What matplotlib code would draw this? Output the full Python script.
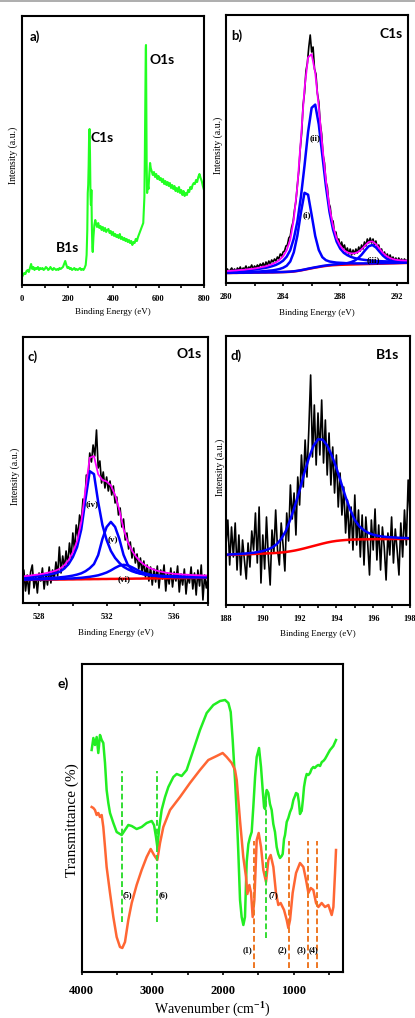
import numpy as np
import matplotlib
matplotlib.use('Agg')
import matplotlib.pyplot as plt
from matplotlib.ticker import MultipleLocator
from matplotlib.lines import Line2D

W, H = 415, 1018

# ---------------- a) XPS survey ----------------
survey_be = (list(range(0, 285, 5))
             + [284, 287, 289, 291, 293, 295, 297, 299, 301, 303, 305, 307, 309, 311, 314, 318, 322, 326]
             + list(range(330, 535, 5))
             + [533, 536, 538, 540, 542, 544, 545, 546, 548, 550, 553, 556, 560, 563, 566, 570]
             + list(range(575, 805, 5)))
survey_cps = ([8, 10, 12, 11, 14, 15, 13, 17, 21, 16, 18, 15, 17, 16, 18, 15, 17, 16, 17, 15,
               16, 18, 17, 15, 16, 18, 16, 15, 17, 16, 15, 16, 15, 17, 16, 17, 18, 21, 24, 20,
               17, 18, 16, 17, 15, 16, 17, 15, 16, 15, 16, 17, 15, 16, 15, 17, 20]
              + [30, 55, 92, 100, 120, 150, 156, 130, 90, 80, 95, 60, 38, 33, 48, 60, 65, 61]
              + [58, 62, 57, 59, 55, 58, 54, 57, 53, 55, 56, 52, 54, 50, 53, 49, 51, 48, 50, 47,
                 51, 46, 48, 45, 47, 44, 46, 43, 45, 42, 44, 40, 43, 42, 46, 44, 48, 51, 54, 57, 60]
              + [62, 78, 88, 130, 190, 236, 240, 200, 120, 92, 100, 96, 112, 122, 117, 114]
              + [110, 113, 108, 111, 106, 109, 105, 107, 103, 106, 101, 104, 100, 103, 99, 102,
                 97, 100, 96, 99, 94, 97, 93, 98, 92, 95, 90, 94, 89, 92, 90, 95, 93, 98, 96,
                 100, 102, 101, 105, 103, 108, 111, 107, 104, 99, 95])
survey_peaks = ['O1s', 'C1s', 'B1s']
survey_peak_x = [615, 354, 202]
survey_peak_y = [225, 147, 37]

# ---------------- b) C1s ----------------
c1s_be = np.linspace(280.0, 292.7, 128)
c1s_raw = [12, 14, 11, 13, 15, 12, 14, 11, 15, 13, 16, 12, 15, 14, 17, 13, 16, 15, 18, 14,
           17, 15, 18, 16, 19, 17, 20, 16, 21, 18, 22, 19, 23, 21, 24, 22, 26, 24, 29, 27,
           31, 32, 37, 38, 45, 47, 56, 61, 73, 82, 98, 112, 134, 150, 178, 190, 212, 220, 236, 248,
           231, 236, 214, 209, 190, 181, 160, 149, 128, 120, 101, 96, 80, 76, 63, 62, 50, 51, 42, 44,
           36, 41, 35, 38, 31, 35, 29, 34, 28, 33, 29, 34, 30, 36, 32, 38, 34, 41, 37, 44,
           40, 45, 40, 44, 38, 42, 35, 38, 31, 34, 28, 31, 26, 29, 24, 28, 23, 26, 22, 25,
           21, 25, 22, 24, 21, 24, 22, 23]
c1s_fit_be = np.linspace(280.0, 292.75, 52)
c1s_bg = [10.0, 10.0, 10.1, 10.1, 10.2, 10.2, 10.3, 10.3, 10.4, 10.4, 10.5, 10.5, 10.6, 10.6,
          10.7, 10.8, 10.9, 11.0, 11.2, 11.5, 12.0, 12.6, 13.3, 14.0, 14.7, 15.4, 16.0, 16.6,
          17.1, 17.5, 17.8, 18.0, 18.2, 18.3, 18.4, 18.5, 18.6, 18.7, 18.8, 18.9, 19.0, 19.1,
          19.2, 19.3, 19.4, 19.5, 19.6, 19.7, 19.8, 19.9, 20.0, 20.1]
c1s_i = [0.4, 0.4, 0.5, 0.5, 0.6, 0.6, 0.7, 0.8, 0.9, 1.0, 1.2, 1.4, 1.7, 2.0, 2.5, 3.2, 4.3,
         6.2, 10.3, 19.2, 35.3, 58, 76.9, 74.3, 53.3, 31.6, 17, 9.2, 5.7, 4.0, 3.1, 2.4, 2.0,
         1.7, 1.3, 1.2, 1.0, 0.9, 0.8, 0.7, 0.6, 0.5, 0.5, 0.5, 0.4, 0.4, 0.4, 0.3, 0.3, 0.3,
         0.3, 0.3]
c1s_ii = [1.5, 1.6, 1.7, 1.9, 2.1, 2.3, 2.6, 2.8, 3.1, 3.6, 4.1, 4.6, 5.3, 6.3, 7.4, 9.1, 11.4,
          15.3, 21.6, 33, 49.5, 73.8, 104, 137, 160.5, 163, 142.6, 111, 79.7, 53.6, 35.5, 23.4,
          16.2, 11.9, 9.4, 7.6, 6.4, 5.4, 4.7, 4.1, 3.6, 3.1, 2.8, 2.6, 2.3, 2.1, 1.9, 1.8, 1.6,
          1.5, 1.4, 1.3]
c1s_iii = [0.1] * 16 + [0.1, 0.2, 0.2, 0.2, 0.2, 0.2, 0.2, 0.3, 0.3, 0.3, 0.3, 0.4, 0.4, 0.5,
                        0.6, 0.7, 0.9, 1.1, 1.5, 2.3, 3.7, 6.0, 9.5, 13.9, 17.8, 18.9, 16.4,
                        12.1, 7.9, 4.9, 3.0, 1.9, 1.3, 1.0, 0.8, 0.7]

# ---------------- c) O1s ----------------
o1s_be = np.linspace(527.0, 538.0, 111)
o1s_raw = [20, 33, 12, 28, 9, 31, 38, 15, 27, 10, 30, 22, 35, 14, 29, 18, 36, 20, 33, 24,
           41, 27, 56, 30, 47, 35, 52, 38, 60, 45, 70, 52, 78, 66, 88, 80, 104, 98, 128, 122,
           150, 141, 158, 147, 173, 135, 142, 120, 131, 115, 126, 112, 122, 108, 117, 100, 106, 88, 95, 76,
           84, 63, 70, 54, 61, 45, 55, 40, 49, 34, 45, 30, 42, 26, 38, 22, 36, 18, 34, 21,
           37, 15, 33, 24, 38, 12, 30, 19, 35, 16, 31, 22, 37, 11, 29, 18, 34, 9, 27, 20,
           36, 14, 30, 8, 33, 17, 38, 3, 28, 15, 26]
o1s_fit_be = np.linspace(527.0, 538.0, 45)
o1s_bg = [23.0, 23.1, 23.1, 23.2, 23.2, 23.3, 23.3, 23.4, 23.4, 23.5, 23.5, 23.6, 23.6, 23.7,
          23.7, 23.8, 23.8, 23.9, 23.9, 24.0, 24.0, 24.1, 24.1, 24.2, 24.2, 24.3, 24.3, 24.4,
          24.4, 24.5, 24.5, 24.6, 24.6, 24.7, 24.7, 24.8, 24.8, 24.9, 24.9, 25.0, 25.0, 25.1,
          25.1, 25.2, 25.2]
o1s_iv = [2.5, 2.7, 3.1, 3.4, 3.8, 4.3, 4.9, 5.6, 6.6, 8.0, 11, 15.4, 22.3, 32.2, 50, 80, 108,
          105, 77, 54, 39, 28, 21, 16, 12, 9.5, 7.5, 6, 5, 4.2, 3.6, 3.1, 2.8, 2.5, 2.2, 2.0,
          1.8, 1.7, 1.5, 1.4, 1.3, 1.2, 1.1, 1.0, 1.0]
o1s_v = [0.8, 0.9, 1.0, 1.1, 1.2, 1.3, 1.5, 1.7, 1.9, 2.2, 2.6, 3.1, 3.8, 4.7, 6, 8, 11, 15, 24,
         40, 52, 57, 52, 40, 24, 14, 9, 6.5, 5, 4, 3.3, 2.8, 2.4, 2.1, 1.8, 1.6, 1.4, 1.3, 1.2,
         1.1, 1.0, 0.9, 0.9, 0.8, 0.8]
o1s_vi = [0.3, 0.3, 0.3, 0.4, 0.4, 0.4, 0.5, 0.5, 0.6, 0.7, 0.8, 0.9, 1.0, 1.2, 1.5, 1.9, 2.4,
          3.0, 3.8, 5, 6.5, 8.5, 11, 13, 14, 13.3, 11.5, 9.2, 7, 5.3, 4, 3.1, 2.4, 1.9, 1.6, 1.3,
          1.1, 1.0, 0.9, 0.8, 0.7, 0.6, 0.6, 0.5, 0.5]

# ---------------- d) B1s ----------------
b1s_be = np.linspace(188.0, 198.0, 101)
b1s_raw = [60, 85, 40, 78, 48, 82, 35, 70, 30, 65, 45, 26, 62, 38, 74, 55, 92, 42, 98, 22,
           70, 36, 88, 48, 20, 75, 52, 95, 55, 40, 82, 60, 34, 92, 64, 120, 86, 112, 70, 128,
           100, 150, 118, 165, 128, 175, 230, 148, 200, 140, 192, 150, 205, 142, 185, 130, 172, 120, 158, 112,
           150, 98, 132, 90, 118, 72, 105, 62, 98, 55, 110, 60, 95, 48, 90, 40, 88, 62, 30, 85,
           55, 96, 45, 80, 35, 78, 58, 25, 72, 50, 88, 42, 76, 55, 30, 82, 48, 95, 60, 125, 90]
b1s_fit_be = np.linspace(188.0, 198.0, 41)
b1s_bg = [50.0, 50.2, 50.3, 50.5, 50.6, 50.8, 51.0, 51.2, 51.4, 51.6, 51.8, 52.1, 52.5, 53.0,
          53.7, 54.5, 55.5, 56.6, 57.8, 59.0, 60.2, 61.4, 62.5, 63.4, 64.1, 64.6, 65.0, 65.3,
          65.5, 65.6, 65.7, 65.7, 65.8, 65.8, 65.9, 65.9, 66.0, 66.0, 66.0, 66.1, 66.1]
b1s_peak = [0.3, 0.4, 0.5, 0.6, 0.8, 1.0, 1.3, 1.8, 2.6, 3.8, 5.6, 8.6, 13.5, 21, 32, 45, 59,
            75, 89, 100, 105.5, 104, 97, 86, 73, 58, 43, 30, 19.5, 13, 9, 6.3, 4.5, 3.4, 2.6,
            2.1, 1.7, 1.4, 1.1, 0.9, 0.7]

# ---------------- e) FTIR ----------------
green_wn = [3859, 3835, 3812, 3788, 3765, 3741, 3717, 3694, 3670, 3647, 3623, 3599, 3552, 3505,
            3434, 3387, 3340, 3292, 3222, 3151, 3080, 3009, 2976, 2948, 2929, 2901, 2868, 2820,
            2773, 2702, 2655, 2585, 2514, 2419, 2325, 2230, 2136, 2041, 1970, 1923, 1890, 1862,
            1829, 1805, 1782, 1758, 1735, 1711, 1688, 1664, 1640, 1616, 1593, 1570, 1545, 1522,
            1489, 1461, 1437, 1418, 1404, 1390, 1380, 1357, 1334, 1310, 1287, 1263, 1239, 1216,
            1192, 1168, 1154, 1135, 1121, 1097, 1074, 1050, 1026, 1003, 980, 965, 942, 925, 909,
            897, 885, 868, 852, 833, 814, 790, 767, 745, 720, 700, 673, 650, 625, 600, 579, 555,
            531, 508, 484, 460, 437, 418, 399]
green_t = [222, 234, 227, 235, 219, 237, 232, 229, 209, 182, 169, 159, 149, 140, 137, 142, 147,
           146, 143, 145, 149, 151, 147, 135, 125, 145, 162, 175, 185, 195, 198, 196, 202, 222,
           242, 259, 267, 271, 272, 269, 260, 232, 192, 159, 119, 72, 55, 47, 55, 110, 128, 135,
           140, 165, 195, 215, 224, 205, 182, 165, 163, 178, 182, 179, 168, 162, 148, 140, 125,
           118, 114, 116, 118, 133, 137, 150, 154, 160, 164, 172, 176, 179, 178, 170, 158, 160,
           161, 172, 185, 193, 198, 197, 199, 203, 205, 204, 206, 207, 206, 210, 211, 213, 216,
           219, 222, 224, 226, 229, 232]
orange_wn = [3859, 3835, 3812, 3788, 3765, 3741, 3717, 3694, 3670, 3647, 3599, 3552, 3505, 3458,
             3425, 3387, 3340, 3292, 3222, 3151, 3080, 3023, 2976, 2929, 2891, 2844, 2749, 2608,
             2467, 2325, 2207, 2089, 2004, 1947, 1876, 1829, 1805, 1759, 1712, 1673, 1654, 1626,
             1602, 1579, 1555, 1522, 1494, 1461, 1428, 1390, 1357, 1324, 1286, 1249, 1216, 1183,
             1135, 1097, 1074, 1050, 1013, 965, 909, 861, 823, 790, 757, 720, 682, 649, 602, 555,
             507, 460, 436, 413, 399]
orange_t = [165, 164, 162, 157, 159, 155, 157, 145, 125, 105, 79, 55, 35, 25, 24, 30, 52, 69, 87,
            102, 115, 123, 117, 112, 129, 145, 162, 175, 189, 202, 212, 216, 219, 215, 209, 202,
            192, 152, 115, 95, 78, 87, 79, 55, 72, 132, 139, 125, 102, 90, 112, 117, 105, 79, 67,
            69, 62, 52, 44, 52, 79, 99, 109, 105, 92, 79, 84, 82, 69, 65, 69, 65, 67, 57, 65, 99,
            122]
green_marks = [3434, 2929, 1395]
green_mark_top = [201, 201, 175]
green_mark_bottom = [50, 50, 34]
orange_marks = [1560, 1066, 797, 672]
band_labels = ['(5)', '(6)', '(7)', '(1)', '(2)', '(3)', '(4)']
band_label_wn = [3359, 2846, 1281, 1659, 1159, 885, 720]
band_label_t = [77, 77, 77, 22, 22, 22, 22]

SERIF = 'Liberation Serif'
SANS = 'Lato'
plt.rcParams['font.family'] = [SERIF, 'DejaVu Serif']
plt.rcParams['font.weight'] = 'bold'
plt.rcParams['mathtext.fontset'] = 'custom'
plt.rcParams['mathtext.rm'] = 'Liberation Serif:bold'
plt.rcParams['mathtext.bf'] = 'Liberation Serif:bold'
plt.rcParams['mathtext.default'] = 'rm'


def box(l, t, r, b):
    # pixel box -> figure fraction rect
    return [l / W, 1 - b / H, (r - l) / W, (b - t) / H]


def frame(ax, tick_size, pad):
    for s in ax.spines.values():
        s.set_linewidth(1.5)
    ax.set_yticks([])
    ax.tick_params(axis='x', which='both', direction='out', width=1.2,
                   labelsize=tick_size, pad=pad)
    ax.tick_params(axis='x', which='major', length=2.5)
    ax.tick_params(axis='x', which='minor', length=2)


fig = plt.figure(figsize=(W / 100, H / 100), dpi=100)
fig.add_artist(Line2D([0, 1], [1 - 1 / H, 1 - 1 / H], color='#a0a0a0', lw=1.2))

# a)
ax = fig.add_axes(box(22, 16, 204, 285))
ax.plot(survey_be, survey_cps, color='#22ff22', lw=1.5)
ax.set_xlim(0, 800)
ax.set_ylim(0, 269)
ax.xaxis.set_major_locator(MultipleLocator(200))
ax.xaxis.set_minor_locator(MultipleLocator(100))
frame(ax, 6, 4.5)
for name, x, y in zip(survey_peaks, survey_peak_x, survey_peak_y):
    ax.text(x, y, name, family=SANS, weight='bold', fontsize=10, ha='center', va='center')
ax.text(0.071, 0.922, 'a)', transform=ax.transAxes, family=SANS, weight='bold',
        fontsize=9.5, ha='center', va='center')
ax.set_xlabel('Binding Energy (eV)', fontsize=6.5, va='center')
ax.xaxis.set_label_coords(0.5, -0.100)
ax.set_ylabel('Intensity (a.u.)', fontsize=7, va='center')
ax.yaxis.set_label_coords(-0.047, 0.483)

# b)
ax = fig.add_axes(box(226, 15, 408, 283))
bg = np.array(c1s_bg)
ax.plot(c1s_be, c1s_raw, color='black', lw=1.2)
ax.plot(c1s_fit_be, bg, color='#ff0000', lw=1.8)
for comp in (c1s_i, c1s_ii, c1s_iii):
    ax.plot(c1s_fit_be, bg + np.array(comp), color='#0000ff', lw=1.8)
ax.plot(c1s_fit_be, bg + np.array(c1s_i) + np.array(c1s_ii) + np.array(c1s_iii),
        color='#ff00ff', lw=1.3)
ax.set_xlim(280, 292.75)
ax.set_ylim(0, 268)
ax.xaxis.set_major_locator(MultipleLocator(4))
ax.xaxis.set_minor_locator(MultipleLocator(2))
frame(ax, 6, 4.5)
for lab, x, y in [('(ii)', 286.22, 144.5), ('(i)', 285.70, 68), ('(iii)', 290.31, 23)]:
    ax.text(x, y, lab, fontsize=6.5, ha='center', va='center')
ax.text(0.058, 0.923, 'b)', transform=ax.transAxes, family=SANS, weight='bold',
        fontsize=9.5, ha='center', va='center')
ax.text(0.909, 0.929, 'C1s', transform=ax.transAxes, family=SANS, weight='bold',
        fontsize=10, ha='center', va='center')
ax.set_xlabel('Binding Energy (eV)', fontsize=6.5, va='center')
ax.xaxis.set_label_coords(0.5, -0.112)
ax.set_ylabel('Intensity (a.u.)', fontsize=7, va='center')
ax.yaxis.set_label_coords(-0.041, 0.515)

# c)
ax = fig.add_axes(box(23, 337, 208, 603))
bg = np.array(o1s_bg)
ax.plot(o1s_be, o1s_raw, color='black', lw=1.2)
ax.plot(o1s_fit_be, bg, color='#ff0000', lw=1.8)
for comp in (o1s_iv, o1s_v, o1s_vi):
    ax.plot(o1s_fit_be, bg + np.array(comp), color='#0000ff', lw=1.8)
ax.plot(o1s_fit_be, bg + np.array(o1s_iv) + np.array(o1s_v) + np.array(o1s_vi),
        color='#ff00ff', lw=1.3)
ax.set_xlim(527.05, 538.0)
ax.set_ylim(0, 266)
ax.xaxis.set_major_locator(MultipleLocator(4))
ax.xaxis.set_minor_locator(MultipleLocator(2))
frame(ax, 6, 4.5)
for lab, x, y in [('(iv)', 531.16, 98.5), ('(v)', 532.38, 63), ('(vi)', 533.06, 24)]:
    ax.text(x, y, lab, fontsize=6.5, ha='center', va='center')
ax.text(0.051, 0.927, 'c)', transform=ax.transAxes, family=SANS, weight='bold',
        fontsize=9.5, ha='center', va='center')
ax.text(0.897, 0.936, 'O1s', transform=ax.transAxes, family=SANS, weight='bold',
        fontsize=10, ha='center', va='center')
ax.set_xlabel('Binding Energy (eV)', fontsize=6.5, va='center')
ax.xaxis.set_label_coords(0.5, -0.113)
ax.set_ylabel('Intensity (a.u.)', fontsize=7, va='center')
ax.yaxis.set_label_coords(-0.043, 0.477)

# d)
ax = fig.add_axes(box(226, 336, 410, 605))
bg = np.array(b1s_bg)
ax.plot(b1s_be, b1s_raw, color='black', lw=1.2)
ax.plot(b1s_fit_be, bg, color='#ff0000', lw=1.8)
ax.plot(b1s_fit_be, bg + np.array(b1s_peak), color='#0000ff', lw=1.8)
ax.set_xlim(188, 198)
ax.set_ylim(0, 269)
ax.xaxis.set_major_locator(MultipleLocator(2))
ax.xaxis.set_minor_locator(MultipleLocator(1))
frame(ax, 6, 4.5)
ax.text(0.057, 0.926, 'd)', transform=ax.transAxes, family=SANS, weight='bold',
        fontsize=9.5, ha='center', va='center')
ax.text(0.880, 0.928, 'B1s', transform=ax.transAxes, family=SANS, weight='bold',
        fontsize=10, ha='center', va='center')
ax.set_xlabel('Binding Energy (eV)', fontsize=6.5, va='center')
ax.xaxis.set_label_coords(0.5, -0.108)
ax.set_ylabel('Intensity (a.u.)', fontsize=7, va='center')
ax.yaxis.set_label_coords(-0.033, 0.513)

# e)
ax = fig.add_axes(box(81.7, 664, 343, 972))
ax.plot(green_wn, green_t, color='#22ee22', lw=1.8)
ax.plot(orange_wn, orange_t, color='#ff6633', lw=1.8)
ax.vlines(green_marks, green_mark_bottom, green_mark_top, colors='#33dd33',
          linestyles=(0, (3, 1.5)), lw=1.4)
ax.vlines(orange_marks, 4, 131, colors='#ee7722', linestyles=(0, (3, 1.5)), lw=1.4)
for lab, x, y in zip(band_labels, band_label_wn, band_label_t):
    ax.text(x, y, lab, fontsize=6, ha='center', va='center')
ax.set_xlim(4000, 300)
ax.set_ylim(0, 308)
ax.xaxis.set_major_locator(MultipleLocator(1000))
ax.xaxis.set_minor_locator(MultipleLocator(500))
frame(ax, 9, 6.5)
ax.set_xlabel('Wavenumber (cm$^{-1}$)', fontsize=10, va='center')
ax.xaxis.set_label_coords(0.5, -0.123)
ax.set_ylabel('Transmittance (%)', fontsize=11, va='center')
ax.yaxis.set_label_coords(-0.036, 0.494)
fig.text(63 / W, 1 - 684 / H, 'e)', family=SANS, weight='bold', fontsize=10,
         ha='center', va='center')

fig.savefig('out.png', dpi=100)
